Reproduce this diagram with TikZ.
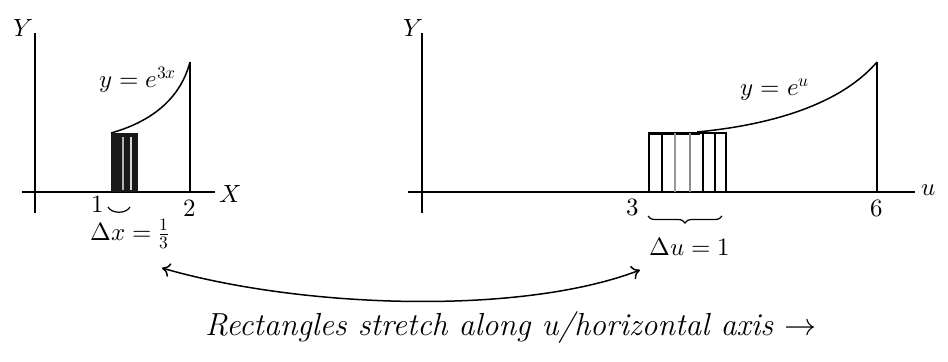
\documentclass[tikz,border=0pt]{standalone}
\usepackage{fontspec}
\usepackage{unicode-math}
\usetikzlibrary{arrows.meta,decorations.pathreplacing}
\begin{document}
\begin{tikzpicture}[x=1bp,y=-1bp,
  axis/.style={line width=1.8bp},
  curve/.style={line width=1.5bp},
  thin line/.style={line width=1.2bp},
  lbl/.style={font=\fontsize{25}{29}\selectfont, inner sep=0pt},
  note/.style={font=\fontsize{32}{36}\selectfont\itshape, inner sep=0pt},
  tipstyle/.style={{To[length=8bp,width=14bp]}-{To[length=8bp,width=14bp]}}
]
\useasboundingbox (0,0) rectangle (948,361);
% ---------- left plot ----------
\coordinate (lyT) at (35,33);  \coordinate (lyB) at (35,213);
\coordinate (lxL) at (22,192); \coordinate (lxR) at (215,192);
\draw[axis] (lyT) -- (lyB);
\draw[axis] (lxL) -- (lxR);
\node[lbl] (lY) at (23,28) {$Y$};
\node[lbl] (lX) at (230,194) {$X$};
\node[lbl] (l1) at (98,204) {$1$};
\node[lbl] (l2) at (190,208) {$2$};
% compressed rectangles
\fill[black!90] (111,133) rectangle (138,192);
\draw[white!70!black,line width=1.2bp] (123,137) -- (123,190);
\draw[white!85!black,line width=1.2bp] (131,137) -- (131,190);
\coordinate (lA) at (111,133); \coordinate (lB) at (190,62); \coordinate (lC) at (190,192);
\draw[curve] (lA) .. controls (150,122) and (180,100) .. (lB);
\draw[thin line] (lB) -- (lC);
\node[lbl] (lf) at (138,80) {$y=e^{3x}$};
\coordinate (lbr1) at (108,207); \coordinate (lbr2) at (130,207);
\draw[thin line] (lbr1) .. controls (112,214) and (126,214) .. (lbr2);
\node[lbl] (ldx) at (130,234) {$\Delta x=\frac13$};
% ---------- right plot ----------
\coordinate (ryT) at (422,33);  \coordinate (ryB) at (422,213);
\coordinate (rxL) at (408,192); \coordinate (rxR) at (915,192);
\draw[axis] (ryT) -- (ryB);
\draw[axis] (rxL) -- (rxR);
\node[lbl] (rY) at (413,28) {$Y$};
\node[lbl] (ru) at (929,190) {$u$};
\node[lbl] (r3) at (633,207) {$3$};
\node[lbl] (r6) at (877,208) {$6$};
% stretched rectangles
\draw[line width=2bp] (649,192) -- (649,133) -- (726,133) -- (726,192);
\draw[line width=3bp] (649,133) -- (700,133);
\foreach \xx/\cc in {662/black,675/black!40,690/black!45,703/black,715/black}
  \draw[\cc,line width=1.3bp] (\xx,133) -- (\xx,192);
\coordinate (rA) at (697,132); \coordinate (rB) at (877,62); \coordinate (rC) at (877,192);
\draw[curve] (rA) .. controls (770,125) and (840,105) .. (rB);
\draw[thin line] (rB) -- (rC);
\node[lbl] (rf) at (775,90) {$y=e^{u}$};
\coordinate (rbr1) at (648,216); \coordinate (rbr2) at (722,216);
\draw[thin line,decorate,decoration={brace,mirror,amplitude=7bp}] (rbr1) -- (rbr2);
\node[lbl] (rdu) at (690,247) {$\Delta u=1$};
% ---------- connecting arrow and note ----------
\coordinate (aL) at (162,268); \coordinate (aR) at (640,270);
\draw[curve,tipstyle] (aL) .. controls (300,308) and (520,316) .. (aR);
\node[note,anchor=west] (note) at (205,328) {Rectangles stretch along u/horizontal axis $\rightarrow$};
\end{tikzpicture}
\end{document}
